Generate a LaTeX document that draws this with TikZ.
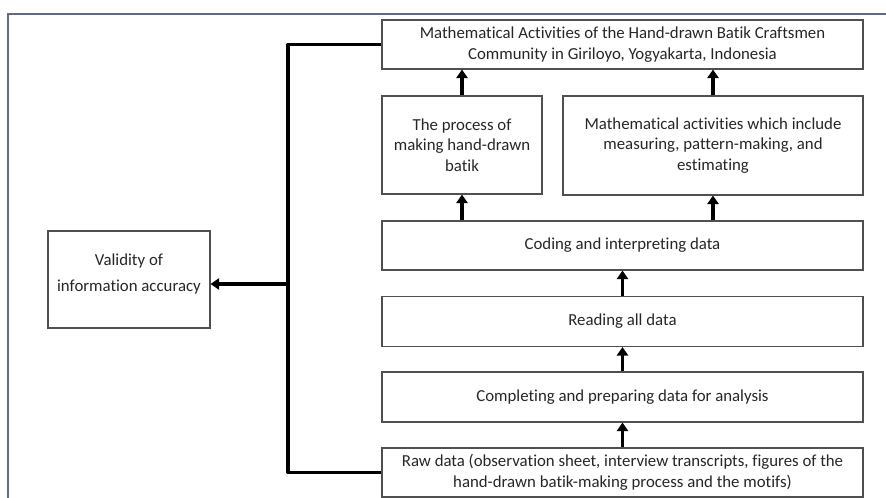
\documentclass[tikz,border=0pt]{standalone}
\usepackage{fontspec}
\setmainfont{Carlito}[Ligatures=NoCommon]
\usepackage{xcolor}
\usepackage{tikz}
\usetikzlibrary{arrows.meta}

\definecolor{boxline}{HTML}{505050}
\definecolor{frameline}{HTML}{5E6E80}
\definecolor{txt}{HTML}{262626}

\tikzset{
  box/.style={draw=boxline, line width=0.8pt, align=center, inner sep=2pt,
    text=txt, font=\fontsize{12.6}{15.4}\selectfont},
  flow/.style={line width=2.3pt, -{Triangle[width=8.5pt,length=6.5pt]}},
  back/.style={line width=2.3pt, line join=round},
}

\begin{document}
\begin{tikzpicture}[x=0.75pt,y=0.75pt,yscale=-1,xscale=1]
\useasboundingbox (0,0) rectangle (886,498);

\draw [frameline, line width=1.3pt] (8,498) -- (8,14) -- (886,14) ;

\node (top) at (622.5,44.5) [box, minimum width=360.75pt, minimum height=36.75pt] {Mathematical Activities of the Hand-drawn Batik Craftsmen\\Community in Giriloyo, Yogyakarta, Indonesia};

\node (proc) at (462,145) [box, minimum width=120pt, minimum height=73.5pt] {The process of\\making hand-drawn\\batik};

\node (math) at (713,145.5) [box, minimum width=225pt, minimum height=74.25pt] {Mathematical activities which include\\measuring, pattern-making, and\\estimating};

\node (code) at (622.5,245.5) [box, minimum width=360.75pt, minimum height=36.75pt] {Coding and interpreting data};

\node (read) at (622.5,321.5) [box, minimum width=360.75pt, minimum height=37.5pt] {Reading all data};

\node (comp) at (622.5,397) [box, minimum width=360.75pt, minimum height=37.5pt] {Completing and preparing data for analysis};

\node (raw) at (622.5,472.5) [box, minimum width=360.75pt, minimum height=36.75pt] {Raw data (observation sheet, interview transcripts, figures of the\\hand-drawn batik-making process and the motifs)};

\node (valid) at (129,279.5) [box, font=\fontsize{12.6}{20}\selectfont, minimum width=121.5pt, minimum height=72.75pt] {Validity of\\information accuracy\\[-10pt]};

\coordinate (bus) at (288,284);

\draw [flow] (proc.north) -- (proc.north |- top.south) ;
\draw [flow] (math.north) -- (math.north |- top.south) ;
\draw [flow] (proc.south |- code.north) -- (proc.south) ;
\draw [flow] (math.south |- code.north) -- (math.south) ;
\draw [flow] (read.north) -- (code.south) ;
\draw [flow] (comp.north) -- (read.south) ;
\draw [flow] (raw.north) -- (comp.south) ;

\draw [back] (raw.west) -| (bus) |- (top.west) ;
\draw [flow] (bus) -- (valid.east |- bus) ;
\end{tikzpicture}
\end{document}
